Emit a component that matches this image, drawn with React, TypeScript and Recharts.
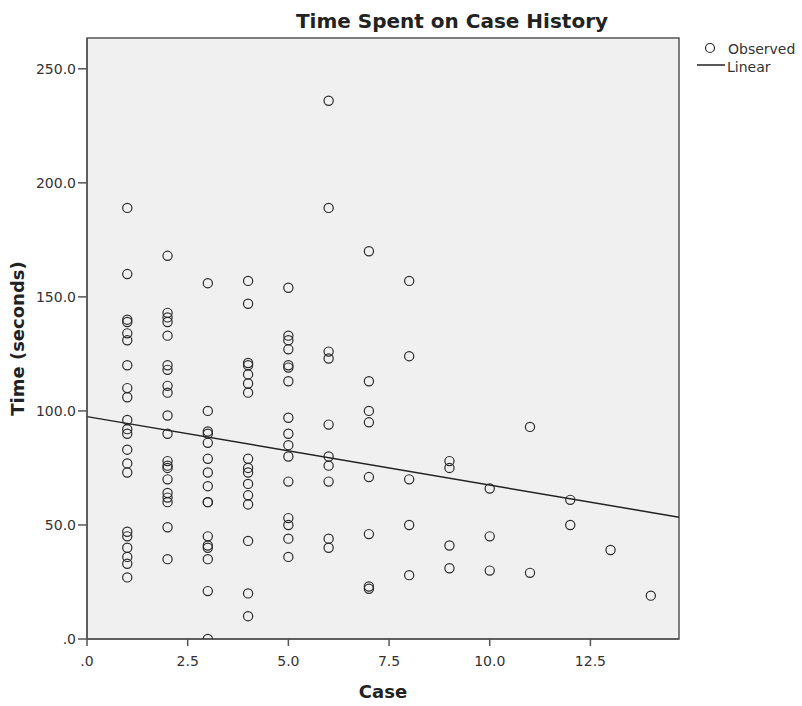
import React from 'react';
import { ScatterChart, Scatter, XAxis, YAxis, ReferenceArea, ReferenceLine, Label } from 'recharts';

const caseNumbers = [1, 2, 3, 4, 5, 6, 7, 8, 9, 10, 11, 12, 13, 14];
const timesByCase: number[][] = [
  [189, 160, 140, 139, 134, 131, 120, 110, 106, 96, 92, 90, 83, 77, 73, 47, 45, 40, 36, 33, 27],
  [168, 143, 141, 139, 133, 120, 118, 111, 108, 98, 90, 78, 76, 75, 70, 64, 62, 60, 49, 35],
  [156, 100, 91, 90, 86, 79, 73, 67, 60, 60, 45, 41, 40, 35, 21, 0],
  [157, 147, 121, 120, 116, 112, 108, 79, 75, 73, 68, 63, 59, 43, 20, 10],
  [154, 133, 131, 127, 120, 119, 113, 97, 90, 85, 80, 69, 53, 50, 44, 36],
  [236, 189, 126, 123, 94, 80, 76, 69, 44, 40],
  [170, 113, 100, 95, 71, 46, 23, 22],
  [157, 124, 70, 50, 28],
  [78, 75, 41, 31],
  [66, 45, 30],
  [93, 29],
  [61, 50],
  [39],
  [19],
];

const linearCase = [0, 14.7];
const linearTime = [97.5, 53.4];

const xTicks = [0, 2.5, 5, 7.5, 10, 12.5];
const yTicks = [0, 50, 100, 150, 200, 250];
const xMax = 14.7;
const yMax = 263.5;

const FONT = '"DejaVu Sans", Verdana, sans-serif';

const points = caseNumbers.flatMap((c, i) => timesByCase[i].map((t) => ({ caseNo: c, time: t })));

const fmt = (v: number) => (v === 0 ? '.0' : v.toFixed(1));

const Ring = (props: any) => {
  const { cx, cy } = props;
  if (cx == null || cy == null) return <g />;
  return <circle cx={cx} cy={cy} r={4.6} fill="none" stroke="#2a2a2a" strokeWidth={1.2} />;
};

export default function App() {
  return (
    <div style={{ position: 'absolute', left: 0, top: 0, width: 802, height: 706, background: '#fff' }}>
      <ScatterChart
        width={802}
        height={706}
        margin={{ top: 38, right: 123, left: 0, bottom: 0 }}
        style={{ fontFamily: FONT }}
      >
        <ReferenceArea
          x1={0}
          x2={xMax}
          y1={0}
          y2={yMax}
          fill="#f0f0f0"
          fillOpacity={1}
          stroke="#555"
          strokeWidth={1.5}
          ifOverflow="visible"
        />
        <XAxis
          type="number"
          dataKey="caseNo"
          domain={[0, xMax]}
          ticks={xTicks}
          interval={0}
          allowDataOverflow
          tickFormatter={fmt}
          height={67}
          tickSize={7}
          tickMargin={10}
          stroke="#555"
          strokeWidth={1.5}
          tick={{ fill: '#333', fontSize: 14, fontFamily: FONT }}
        >
          <Label value="Case" position="insideBottom" offset={8} style={{ fontFamily: FONT, fontSize: 18, fontWeight: 'bold', fill: '#222' }} />
        </XAxis>
        <YAxis
          type="number"
          dataKey="time"
          domain={[0, yMax]}
          ticks={yTicks}
          interval={0}
          allowDataOverflow
          tickFormatter={fmt}
          width={87}
          tickSize={9}
          tickMargin={2}
          stroke="#555"
          strokeWidth={1.5}
          tick={{ fill: '#333', fontSize: 14, fontFamily: FONT }}
        >
          <Label
            value="Time (seconds)"
            position="insideLeft"
            angle={-90}
            offset={18}
            style={{ textAnchor: 'middle', fontFamily: FONT, fontSize: 18, fontWeight: 'bold', fill: '#222' }}
          />
        </YAxis>
        <ReferenceLine
          segment={[
            { x: linearCase[0], y: linearTime[0] },
            { x: linearCase[1], y: linearTime[1] },
          ]}
          stroke="#222"
          strokeWidth={1.5}
          ifOverflow="visible"
        />
        <Scatter name="Observed" data={points} shape={Ring} isAnimationActive={false} />
      </ScatterChart>
      <svg
        width={802}
        height={706}
        style={{ position: 'absolute', left: 0, top: 0, pointerEvents: 'none', fontFamily: FONT }}
      >
        <text x={452} y={28} textAnchor="middle" fontSize={20} fontWeight="bold" fill="#222">
          Time Spent on Case History
        </text>
        <circle cx={710} cy={48} r={4.5} fill="none" stroke="#2a2a2a" strokeWidth={1.2} />
        <text x={728} y={54} fontSize={14} fill="#333">Observed</text>
        <line x1={697} y1={65} x2={725} y2={65} stroke="#222" strokeWidth={1.5} />
        <text x={727} y={72} fontSize={14} fill="#333">Linear</text>
      </svg>
    </div>
  );
}
